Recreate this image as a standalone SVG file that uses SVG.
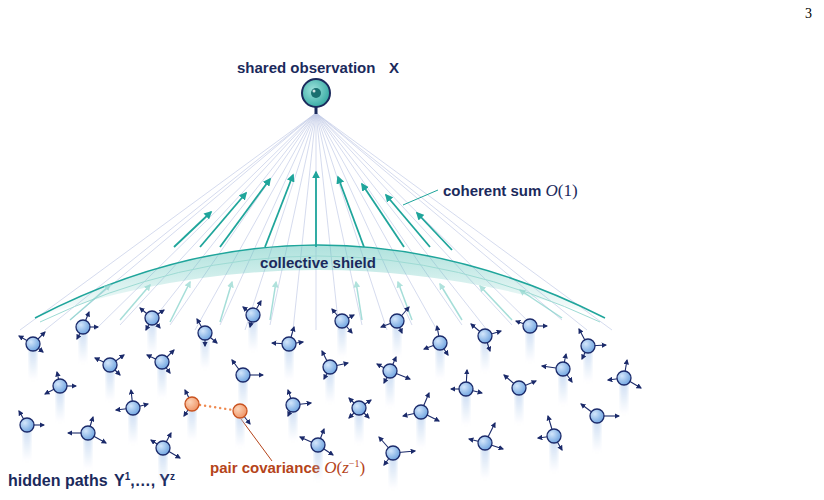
<svg xmlns="http://www.w3.org/2000/svg" width="824" height="500" viewBox="0 0 824 500">
<defs>
<style>
.t{font-family:"Liberation Sans",Arial,sans-serif;font-weight:bold;fill:#1b2a5c}
.m{font-family:"Liberation Serif","Times New Roman",serif;font-style:italic}
.fan{stroke:#c3cbe6;stroke-width:0.7;fill:none}
.ta{stroke:#1fa59b;stroke-width:1.8;marker-end:url(#th)}
.tb{stroke:#7fd0c8;stroke-width:1.5;marker-end:url(#th2);opacity:0.7}
.v line{stroke:#1b2a6a;stroke-width:1.1;marker-end:url(#na)}
</style>
<marker id="na" viewBox="0 0 10 10" refX="8" refY="5" markerWidth="5" markerHeight="5" orient="auto"><path d="M0 0L10 5L0 10z" fill="#1b2a6a"/></marker>
<marker id="th" viewBox="0 0 10 10" refX="8" refY="5" markerWidth="4.5" markerHeight="4.5" orient="auto"><path d="M0 0L10 5L0 10z" fill="#1fa59b"/></marker>
<marker id="th2" viewBox="0 0 10 10" refX="8" refY="5" markerWidth="4.5" markerHeight="4.5" orient="auto"><path d="M0 0L10 5L0 10z" fill="#8fd6ce"/></marker>
<radialGradient id="nb" cx="0.35" cy="0.35" r="0.7"><stop offset="0" stop-color="#d3e6fb"/><stop offset="1" stop-color="#6fa4e0"/></radialGradient>
<radialGradient id="ob" cx="0.35" cy="0.35" r="0.7"><stop offset="0" stop-color="#fcd4b8"/><stop offset="1" stop-color="#ef9466"/></radialGradient>
<radialGradient id="eg" cx="0.4" cy="0.4" r="0.7"><stop offset="0" stop-color="#9fe3dd"/><stop offset="1" stop-color="#2aa39c"/></radialGradient>
<linearGradient id="tg" x1="0" y1="0" x2="0" y2="1"><stop offset="0" stop-color="#a8c6ea" stop-opacity="0.6"/><stop offset="1" stop-color="#a8c6ea" stop-opacity="0"/></linearGradient>
<linearGradient id="sg" x1="0" y1="0" x2="0" y2="1"><stop offset="0" stop-color="#5cc4ba" stop-opacity="0.5"/><stop offset="1" stop-color="#5cc4ba" stop-opacity="0"/></linearGradient>
<filter id="bl"><feGaussianBlur stdDeviation="1.5"/></filter>
<rect id="tr" x="-4" y="2" width="8" height="34" fill="url(#tg)" filter="url(#bl)"/>
<circle id="nc" r="7" fill="url(#nb)" stroke="#1b2a6a" stroke-width="1.3"/>
</defs>
<rect width="824" height="500" fill="#fff"/>
<text x="812" y="18" font-family="Liberation Serif,serif" font-size="14" text-anchor="end">3</text>

<g id="connectors">
<g id="fan">
<path class="fan" d="M316 113L20 330M316 113L45 330M316 113L70 320M316 113L95 330M316 113L120 325M316 113L145 330M316 113L170 325M316 113L195 330M316 113L220 325M316 113L245 330M316 113L270 325M316 113L293 330M316 113L316 330M316 113L339 330M316 113L362 325M316 113L387 330M316 113L412 325M316 113L437 330M316 113L462 325M316 113L487 330M316 113L512 325M316 113L537 330M316 113L562 320M316 113L587 330M316 113L612 330"/>
</g>
<g id="shield">
<path d="M35 318Q316 172 605 318Q316 222 35 318Z" fill="url(#sg)"/>
<path d="M35 318Q316 172 605 318" fill="none" stroke="#1fa59b" stroke-width="1.5"/>
<path d="M40 322Q316 190 600 322" fill="none" stroke="#9edbd4" stroke-width="1"/>
</g>
<g id="teal-arrows">
<line class="ta" x1="174" y1="247" x2="211" y2="212"/>
<line class="ta" x1="200" y1="247" x2="246" y2="193"/>
<line class="ta" x1="220" y1="247" x2="270" y2="179"/>
<line class="ta" x1="265" y1="247" x2="293" y2="175"/>
<line class="ta" x1="316" y1="247" x2="316" y2="172"/>
<line class="ta" x1="364" y1="247" x2="338" y2="177"/>
<line class="ta" x1="404" y1="247" x2="362" y2="184"/>
<line class="ta" x1="430" y1="247" x2="386" y2="195"/>
<line class="ta" x1="452" y1="250" x2="417" y2="213"/>
<line class="tb" x1="70" y1="320" x2="110" y2="285"/>
<line class="tb" x1="120" y1="320" x2="150" y2="285"/>
<line class="tb" x1="170" y1="322" x2="190" y2="282"/>
<line class="tb" x1="220" y1="322" x2="232" y2="282"/>
<line class="tb" x1="270" y1="320" x2="276" y2="282"/>
<line class="tb" x1="362" y1="320" x2="356" y2="282"/>
<line class="tb" x1="412" y1="320" x2="398" y2="282"/>
<line class="tb" x1="462" y1="320" x2="440" y2="284"/>
<line class="tb" x1="512" y1="320" x2="480" y2="286"/>
<line class="tb" x1="562" y1="318" x2="520" y2="290"/>
</g>
<path d="M438 190L403 205" stroke="#1fa59b" stroke-width="1" fill="none"/>
<path d="M241 419L272 461" stroke="#b5441a" stroke-width="1" fill="none"/>
<path d="M200 405L233 410" stroke="#ef8a50" stroke-width="2.4" stroke-dasharray="0.1 5" stroke-linecap="round" fill="none"/>
</g>

<g id="observation">
<line x1="316" y1="105" x2="316" y2="114" stroke="#1b2a5c" stroke-width="3"/>
<circle cx="316" cy="93" r="14" fill="url(#eg)" stroke="#1b2a5c" stroke-width="2"/>
<circle cx="316" cy="93" r="5" fill="#1a6f70"/>
<circle cx="314" cy="91" r="1.5" fill="#fff" opacity="0.8"/>
</g>

<g id="labels">
<text class="t" x="237" y="73" font-size="15">shared observation<tspan x="389">X</tspan></text>
<text class="t" x="443" y="196" font-size="15">coherent sum <tspan class="m" font-weight="normal" font-size="17">O</tspan><tspan font-family="Liberation Serif,serif" font-weight="normal" font-size="17">(1)</tspan></text>
<text class="t" x="318" y="268" font-size="15" text-anchor="middle">collective shield</text>
<text class="t" x="8" y="486" font-size="16">hidden paths<tspan x="114">Y</tspan><tspan font-size="10" dy="-6">1</tspan><tspan dy="6">,…, Y</tspan><tspan font-size="10" dy="-6">z</tspan></text>
<text x="210" y="473" font-size="15" font-family="Liberation Sans,Arial,sans-serif" font-weight="bold" fill="#b5441a">pair covariance <tspan class="m" font-weight="normal" font-size="17">O</tspan><tspan font-family="Liberation Serif,serif" font-weight="normal" font-size="17">(<tspan font-style="italic">z</tspan><tspan font-size="10" dy="-6">−1</tspan><tspan dy="6">)</tspan></tspan></text>
</g>

<g id="paths" class="v">
<g id="n1" transform="translate(33,344)"><use href="#tr"/><line x1="0" y1="0" x2="-14" y2="-8"/><line x1="0" y1="0" x2="12" y2="-12"/><line x1="0" y1="0" x2="10" y2="8"/><use href="#nc"/></g>
<g id="n2" transform="translate(83,327)"><use href="#tr"/><line x1="0" y1="0" x2="6" y2="-15"/><line x1="0" y1="0" x2="15" y2="0"/><line x1="0" y1="0" x2="-6" y2="12"/><use href="#nc"/></g>
<g id="n3" transform="translate(152,318)"><use href="#tr"/><line x1="0" y1="0" x2="-12" y2="-10"/><line x1="0" y1="0" x2="12" y2="-8"/><line x1="0" y1="0" x2="-6" y2="12"/><line x1="0" y1="0" x2="8" y2="10"/><use href="#nc"/></g>
<g id="n4" transform="translate(205,333)"><use href="#tr"/><line x1="0" y1="0" x2="-8" y2="-14"/><line x1="0" y1="0" x2="12" y2="10"/><line x1="0" y1="0" x2="0" y2="13"/><use href="#nc"/></g>
<g id="n5" transform="translate(253,315)"><use href="#tr"/><line x1="0" y1="0" x2="8" y2="-14"/><line x1="0" y1="0" x2="-10" y2="-8"/><line x1="0" y1="0" x2="-3" y2="12"/><use href="#nc"/></g>
<g id="n6" transform="translate(342,321)"><use href="#tr"/><line x1="0" y1="0" x2="-10" y2="-12"/><line x1="0" y1="0" x2="12" y2="-6"/><line x1="0" y1="0" x2="10" y2="12"/><use href="#nc"/></g>
<g id="n7" transform="translate(397,321)"><use href="#tr"/><line x1="0" y1="0" x2="-16" y2="6"/><line x1="0" y1="0" x2="12" y2="-14"/><line x1="0" y1="0" x2="5" y2="12"/><use href="#nc"/></g>
<g id="n8" transform="translate(440,343)"><use href="#tr"/><line x1="0" y1="0" x2="-3" y2="-17"/><line x1="0" y1="0" x2="-16" y2="6"/><line x1="0" y1="0" x2="8" y2="12"/><use href="#nc"/></g>
<g id="n9" transform="translate(485,336)"><use href="#tr"/><line x1="0" y1="0" x2="-14" y2="-12"/><line x1="0" y1="0" x2="16" y2="-5"/><line x1="0" y1="0" x2="5" y2="15"/><use href="#nc"/></g>
<g id="n10" transform="translate(530,326)"><use href="#tr"/><line x1="0" y1="0" x2="-14" y2="-5"/><line x1="0" y1="0" x2="17" y2="0"/><use href="#nc"/></g>
<g id="n11" transform="translate(588,346)"><use href="#tr"/><line x1="0" y1="0" x2="-9" y2="-17"/><line x1="0" y1="0" x2="18" y2="-1"/><line x1="0" y1="0" x2="-6" y2="13"/><use href="#nc"/></g>
<g id="n12" transform="translate(110,365)"><use href="#tr"/><line x1="0" y1="0" x2="-15" y2="-7"/><line x1="0" y1="0" x2="14" y2="-10"/><line x1="0" y1="0" x2="10" y2="10"/><use href="#nc"/></g>
<g id="n13" transform="translate(162,362)"><use href="#tr"/><line x1="0" y1="0" x2="-15" y2="-7"/><line x1="0" y1="0" x2="12" y2="-12"/><line x1="0" y1="0" x2="8" y2="11"/><use href="#nc"/></g>
<g id="n14" transform="translate(289,344)"><use href="#tr"/><line x1="0" y1="0" x2="-17" y2="-1"/><line x1="0" y1="0" x2="5" y2="-17"/><line x1="0" y1="0" x2="14" y2="-2"/><use href="#nc"/></g>
<g id="n15" transform="translate(330,367)"><use href="#tr"/><line x1="0" y1="0" x2="-8" y2="-16"/><line x1="0" y1="0" x2="18" y2="-4"/><line x1="0" y1="0" x2="-6" y2="12"/><use href="#nc"/></g>
<g id="n16" transform="translate(390,371)"><use href="#tr"/><line x1="0" y1="0" x2="-13" y2="-7"/><line x1="0" y1="0" x2="6" y2="-14"/><line x1="0" y1="0" x2="20" y2="8"/><line x1="0" y1="0" x2="-6" y2="12"/><use href="#nc"/></g>
<g id="n17" transform="translate(466,389)"><use href="#tr"/><line x1="0" y1="0" x2="1" y2="-19"/><line x1="0" y1="0" x2="-15" y2="0"/><line x1="0" y1="0" x2="16" y2="4"/><use href="#nc"/></g>
<g id="n18" transform="translate(519,388)"><use href="#tr"/><line x1="0" y1="0" x2="-15" y2="-13"/><line x1="0" y1="0" x2="17" y2="-7"/><use href="#nc"/></g>
<g id="n19" transform="translate(563,369)"><use href="#tr"/><line x1="0" y1="0" x2="-21" y2="-3"/><line x1="0" y1="0" x2="3" y2="-15"/><line x1="0" y1="0" x2="9" y2="13"/><use href="#nc"/></g>
<g id="n20" transform="translate(624,378)"><use href="#tr"/><line x1="0" y1="0" x2="3" y2="-18"/><line x1="0" y1="0" x2="-16" y2="2"/><line x1="0" y1="0" x2="17" y2="10"/><use href="#nc"/></g>
<g id="n21" transform="translate(60,386)"><use href="#tr"/><line x1="0" y1="0" x2="-3" y2="-14"/><line x1="0" y1="0" x2="-15" y2="8"/><line x1="0" y1="0" x2="16" y2="0"/><use href="#nc"/></g>
<g id="n22" transform="translate(243,375)"><use href="#tr"/><line x1="0" y1="0" x2="-11" y2="-15"/><line x1="0" y1="0" x2="20" y2="0"/><use href="#nc"/></g>
<g id="n23" transform="translate(133,408)"><use href="#tr"/><line x1="0" y1="0" x2="-2" y2="-18"/><line x1="0" y1="0" x2="-17" y2="2"/><line x1="0" y1="0" x2="15" y2="-4"/><use href="#nc"/></g>
<g id="n24" transform="translate(27,425)"><use href="#tr"/><line x1="0" y1="0" x2="-8" y2="-14"/><line x1="0" y1="0" x2="17" y2="0"/><use href="#nc"/></g>
<g id="n25" transform="translate(88,433)"><use href="#tr"/><line x1="0" y1="0" x2="-20" y2="0"/><line x1="0" y1="0" x2="5" y2="-16"/><line x1="0" y1="0" x2="18" y2="10"/><use href="#nc"/></g>
<g id="n26" transform="translate(163,448)"><use href="#tr"/><line x1="0" y1="0" x2="-12" y2="-8"/><line x1="0" y1="0" x2="8" y2="-15"/><line x1="0" y1="0" x2="17" y2="10"/><use href="#nc"/></g>
<g id="n27" transform="translate(293,405)"><use href="#tr"/><line x1="0" y1="0" x2="-5" y2="-15"/><line x1="0" y1="0" x2="18" y2="-2"/><line x1="0" y1="0" x2="-5" y2="11"/><use href="#nc"/></g>
<g id="n28" transform="translate(359,408)"><use href="#tr"/><line x1="0" y1="0" x2="-10" y2="-10"/><line x1="0" y1="0" x2="12" y2="-8"/><line x1="0" y1="0" x2="-10" y2="10"/><line x1="0" y1="0" x2="10" y2="10"/><use href="#nc"/></g>
<g id="n29" transform="translate(421,412)"><use href="#tr"/><line x1="0" y1="0" x2="-18" y2="4"/><line x1="0" y1="0" x2="8" y2="-19"/><line x1="0" y1="0" x2="18" y2="9"/><use href="#nc"/></g>
<g id="n30" transform="translate(597,416)"><use href="#tr"/><line x1="0" y1="0" x2="-16" y2="-12"/><line x1="0" y1="0" x2="22" y2="0"/><use href="#nc"/></g>
<g id="n31" transform="translate(318,445)"><use href="#tr"/><line x1="0" y1="0" x2="-18" y2="-8"/><line x1="0" y1="0" x2="6" y2="-16"/><line x1="0" y1="0" x2="15" y2="10"/><use href="#nc"/></g>
<g id="n32" transform="translate(393,453)"><use href="#tr"/><line x1="0" y1="0" x2="-14" y2="-16"/><line x1="0" y1="0" x2="22" y2="-2"/><line x1="0" y1="0" x2="-9" y2="12"/><use href="#nc"/></g>
<g id="n33" transform="translate(485,443)"><use href="#tr"/><line x1="0" y1="0" x2="-16" y2="-4"/><line x1="0" y1="0" x2="10" y2="-20"/><line x1="0" y1="0" x2="18" y2="6"/><use href="#nc"/></g>
<g id="n34" transform="translate(554,436)"><use href="#tr"/><line x1="0" y1="0" x2="-6" y2="-20"/><line x1="0" y1="0" x2="-16" y2="2"/><line x1="0" y1="0" x2="8" y2="14"/><use href="#nc"/></g>
<g id="p1" transform="translate(192,404)"><use href="#tr"/><line x1="0" y1="0" x2="-7" y2="-14"/><line x1="0" y1="0" x2="-8" y2="12"/><circle r="7" fill="url(#ob)" stroke="#c9521f" stroke-width="1.3"/></g>
<g id="p2" transform="translate(240,411)"><use href="#tr"/><line x1="0" y1="0" x2="10" y2="13"/><circle r="7" fill="url(#ob)" stroke="#c9521f" stroke-width="1.3"/></g>
</g>
</svg>
